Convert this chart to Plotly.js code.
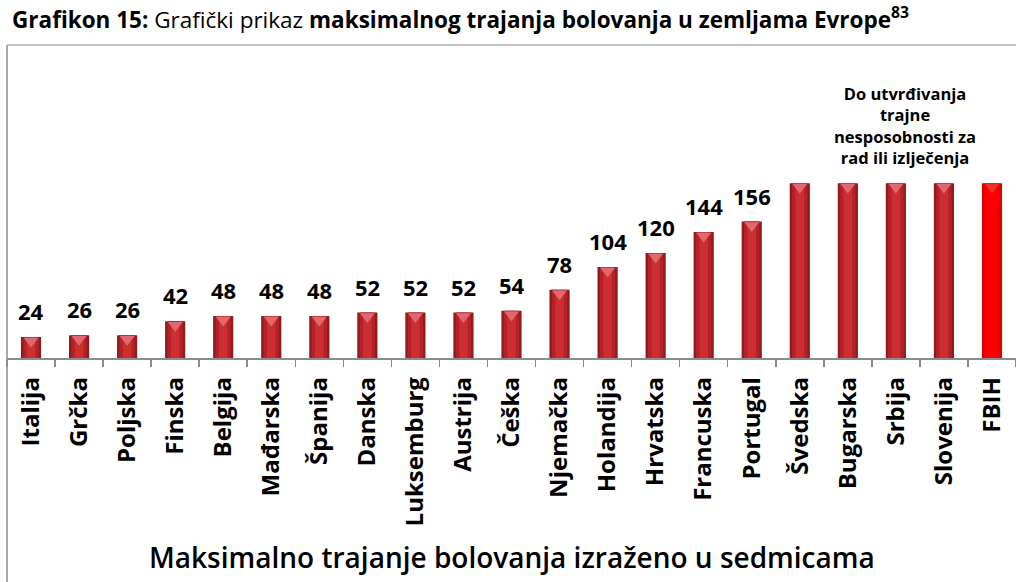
<!DOCTYPE html>
<html>
<head>
<meta charset="utf-8">
<script src="https://cdn.plot.ly/plotly-3.0.1.min.js"></script>
<style>html,body{margin:0;padding:0;background:#fff;}#chart{width:1016px;height:582px;}</style>
</head>
<body>
<div id="chart"></div>
<script>
// Data
const countries = ["Italija","Grčka","Poljska","Finska","Belgija","Mađarska","Španija","Danska","Luksemburg","Austrija","Češka","Njemačka","Holandija","Hrvatska","Francuska","Portugal","Švedska","Bugarska","Srbija","Slovenija","FBIH"];
const weeks = [24,26,26,42,48,48,48,52,52,52,54,78,104,120,144,156,200,200,200,200,200];
const valueLabels = ["24","26","26","42","48","48","48","52","52","52","54","78","104","120","144","156","","","","",""];
const noteText = "Do utvrđivanja<br>trajne<br>nesposobnosti za<br>rad ili izlječenja";

const FONT = "'Open Sans', sans-serif";
const isF = countries.map(c => c === "FBIH");
const edgeCol = isF.map(f => f ? "#d80000" : "#8f1c1e");
const midCol = isF.map(f => f ? "#f40000" : "#b42226");
const coreCol = isF.map(f => f ? "#ff0000" : "#cc2e33");
const triCol = isF.map(f => f ? "#e83030" : "#e06870");

const traces = [
  {type:"bar", x:countries, y:weeks, width:0.42, marker:{color:edgeCol, line:{width:0}}, hoverinfo:"skip"},
  {type:"bar", x:countries, y:weeks, width:0.32, marker:{color:midCol, line:{width:0}}, hoverinfo:"skip"},
  {type:"bar", x:countries, y:weeks, width:0.18, marker:{color:coreCol, line:{width:0}}, hoverinfo:"skip"},
  {type:"scatter", mode:"markers", x:countries, y:weeks.map(v => v - 4.5),
   marker:{symbol:"triangle-down", size:13, color:triCol, line:{width:0}}, hoverinfo:"skip", cliponaxis:false}
];

const annotations = [];
countries.forEach((c,i) => {
  if (!valueLabels[i]) return;
  annotations.push({
    x:c, y:weeks[i], xref:"x", yref:"y", text:valueLabels[i], showarrow:false,
    yanchor:"bottom", yshift:9, font:{family:FONT, size:22, color:"#000", weight:"bold"}
  });
});
annotations.push({
  x:18.2, y:200, xref:"x", yref:"y", text:"<b>"+noteText+"</b>", showarrow:false,
  yanchor:"bottom", yshift:12, align:"center",
  font:{family:FONT, size:16.5, color:"#000"}
});
annotations.push({
  xref:"paper", yref:"paper", x:0.5, y:-0.636, xanchor:"center", yanchor:"middle",
  text:"Maksimalno trajanje bolovanja izraženo u sedmicama", showarrow:false,
  font:{family:FONT, size:28, color:"#000", weight:600}
});

const layout = {
  width:1016, height:582,
  margin:{l:7, r:0, t:45, b:224, pad:0},
  paper_bgcolor:"#fff", plot_bgcolor:"#fff",
  barmode:"overlay",
  showlegend:false,
  title:{text:"<b>Grafikon 15:</b> Grafički prikaz <b>maksimalnog trajanja bolovanja u zemljama Evrope</b><sup><b>83</b></sup>",
         x:0.005, xanchor:"left", xref:"paper", y:0.966, yanchor:"middle", yref:"container",
         font:{family:FONT, size:22.5, color:"#000"}},
  xaxis:{type:"category", range:[-0.5, 20.5], showline:true, linecolor:"#8c8c8c", linewidth:1.5,
         ticks:"outside", ticklen:7, tickcolor:"#8c8c8c", tickwidth:1.5, tickson:"boundaries",
         ticklabelstandoff:8,
         tickangle:-90, tickfont:{family:FONT, size:24, color:"#000", weight:"bold"},
         showgrid:false, zeroline:false, fixedrange:true},
  yaxis:{range:[0,358], showticklabels:false, showgrid:false, zeroline:false, showline:false, ticks:"", fixedrange:true},
  annotations:annotations,
  shapes:[
    {type:"line", xref:"paper", yref:"paper", x0:0, x1:0, y0:-0.72, y1:1, line:{color:"#8c8c8c", width:1.5}},
    {type:"line", xref:"paper", yref:"paper", x0:0, x1:1.01, y0:1, y1:1, line:{color:"#b0b0b0", width:1.5}}
  ]
};

Plotly.newPlot("chart", traces, layout, {displayModeBar:false, staticPlot:true});
</script>
</body>
</html>
